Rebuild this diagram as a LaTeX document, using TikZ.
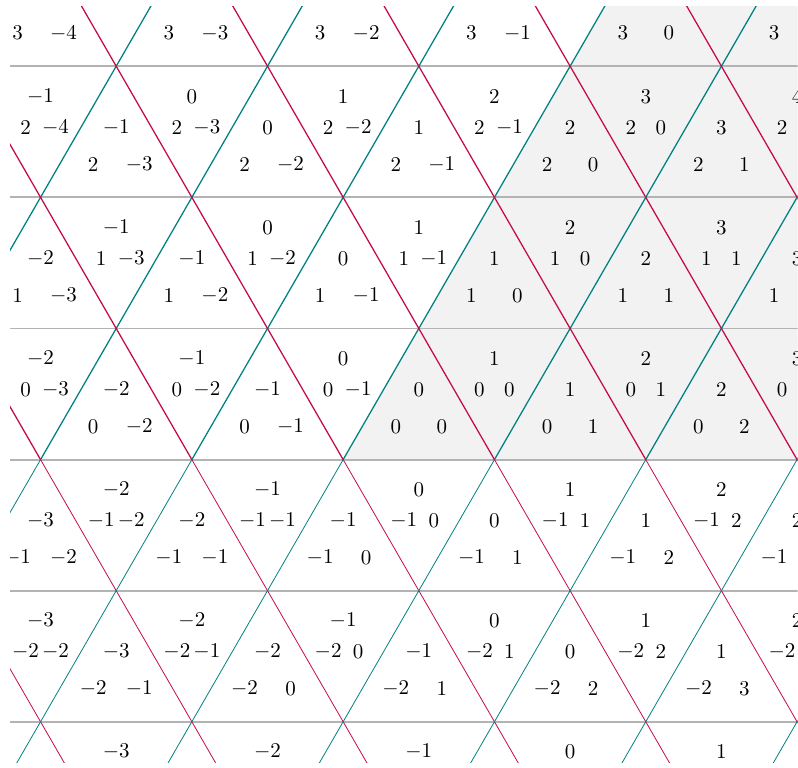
\documentclass[tikz,border=0pt]{standalone}
\definecolor{tealline}{RGB}{0,128,128}
\definecolor{redline}{RGB}{196,10,72}
\definecolor{hline}{RGB}{179,179,179}
\definecolor{shadefill}{RGB}{242,242,242}
\newcommand{\putlabel}[4]{%
  \pgfmathtruncatemacro{\lblvis}{and(and(#2>-5,#2<812),and(#3>10,#3<770))}%
  \ifnum\lblvis=1 \node[lbl] (#1) at (#2,#3) {#4};\fi}
\begin{document}
\begin{tikzpicture}[x=0.47619pt,y=-0.47619pt,
  lbl/.style={inner sep=0pt, font=\normalsize},
  upline/.style={line width=0.6pt},
  lowline/.style={line width=0.38pt},
  hl/.style={draw=hline, line width=0.9pt}]
\useasboundingbox (0,0) rectangle (798,767);
\begin{scope}
\clip (10,6) rectangle (797.5,762);
% shaded cone
\fill[shadefill] (343.15,459.6) -- (608.4,0) -- (800,0) -- (800,459.6) -- cycle;
% horizontal lines
\foreach \j in {0,...,5} {
  \pgfmathsetmacro{\yy}{66.3+131.1*\j}
  \draw[hl] (0,\yy) -- (800,\yy);
}
% slanted lines
\foreach \k in {-5,...,7} {
  \pgfmathsetmacro{\xo}{343.15+151.3*\k}
  \coordinate (v\k) at (\xo,459.6);
  \draw[tealline,upline] (v\k) -- ++(272.3,-472);
  \draw[redline,upline] (v\k) -- ++(-272.3,-472);
  \draw[tealline,lowline] (v\k) -- ++(-181.6,314.6);
  \draw[redline,lowline] (v\k) -- ++(181.6,314.6);
}
% labels
\foreach \ib in {-3,...,3} {
  \pgfmathsetmacro{\yt}{459.6-131.1*(\ib+1)}
  \pgfmathsetmacro{\ya}{\yt+61}
  \pgfmathsetmacro{\yb}{\yt+98}
  \pgfmathsetmacro{\yc}{\yt+30}
  \foreach \ia in {-6,...,8} {
    \pgfmathsetmacro{\xu}{418.8+151.3*\ia-75.65*\ib}
    \pgfmathsetmacro{\xd}{\xu-75.65}
    \pgfmathsetmacro{\xul}{\xu-23}
    \pgfmathsetmacro{\xur}{\xu+23}
    \pgfmathsetmacro{\xdl}{\xd-15}
    \pgfmathsetmacro{\xdr}{\xd+15}
    \pgfmathtruncatemacro{\cu}{\ia-\ib}
    \pgfmathtruncatemacro{\cd}{\ia-\ib-1}
    \pgfmathtruncatemacro{\na}{\ia+10}
    \pgfmathtruncatemacro{\nb}{\ib+10}
    % upward triangle
    \putlabel{u\na-\nb-a}{\xu}{\ya}{$\ia$}
    \putlabel{u\na-\nb-b}{\xul}{\yb}{$\ib$}
    \putlabel{u\na-\nb-c}{\xur}{\yb}{$\cu$}
    % downward triangle
    \putlabel{d\na-\nb-a}{\xd}{\yc}{$\ia$}
    \putlabel{d\na-\nb-b}{\xdl}{\ya}{$\ib$}
    \putlabel{d\na-\nb-c}{\xdr}{\ya}{$\cd$}
  }
}
\end{scope}
\end{tikzpicture}
\end{document}
